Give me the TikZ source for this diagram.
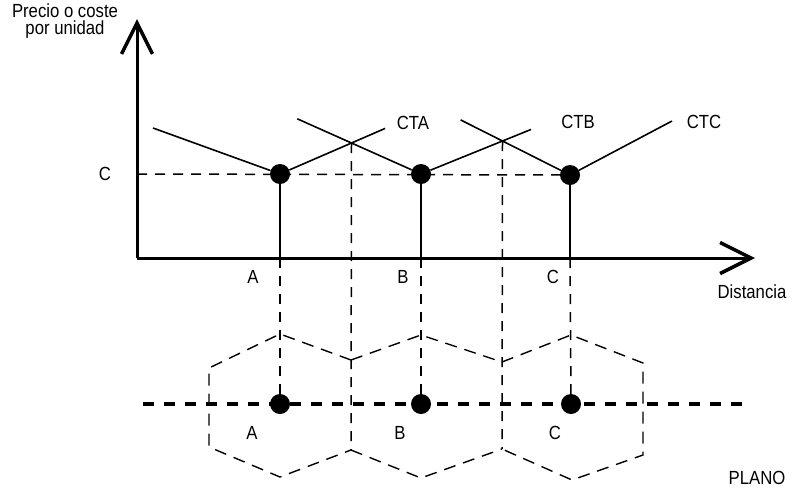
\documentclass[tikz,border=0pt]{standalone}
\usepackage{fontspec}
\setmainfont{Liberation Sans}[FakeStretch=0.88]
\usetikzlibrary{arrows.meta,calc}

\begin{document}
\begin{tikzpicture}[x=1pt, y=-1pt,
	dot/.style={circle, minimum size=20pt, draw=none, fill=black, inner sep=0},
	lbl/.style={font=\fontsize{19}{17.5}\selectfont, inner sep=0},
	axis/.style={line width=3pt, -{Straight Barb[length=31pt,width=31pt,line width=3.5pt]}},
	cost/.style={line width=1.6pt},
	guide/.style={line width=1.5pt, dash pattern=on 10pt off 8pt},
	hexa/.style={line width=1.4pt, dash pattern=on 12pt off 8pt},
	plano/.style={line width=4pt, dash pattern=on 11pt off 10pt}]

\useasboundingbox (0,0) rectangle (792,499);

% axes
\coordinate (O) at (137,258);
\coordinate (ytip) at (137,19);
\coordinate (xtip) at (755,258);
\draw[axis] (O) -- (ytip);
\draw[axis] (O) -- (xtip);
\node[lbl, align=center] (ylab) at (65,21) {Precio o coste\\por unidad};
\node[lbl] (xlab) at (752,292) {Distancia};

% cost curves
\node[dot] (A) at (280,174) {};
\node[dot] (B) at (421,174) {};
\node[dot] (C) at (570,175) {};
\coordinate (AB) at (351.5,143);
\coordinate (BC) at (502.5,141);
\coordinate (a1) at (153,128);
\coordinate (a2) at ($(A)!1.47!(AB)$);
\coordinate (b1) at ($(B)!1.78!(AB)$);
\coordinate (b2) at ($(B)!1.35!(BC)$);
\coordinate (c1) at ($(C)!1.62!(BC)$);
\coordinate (c2) at (672,121);
\begin{scope}[cost]
\draw (a1) -- (A) -- (a2);
\draw (b1) -- (B) -- (b2);
\draw (c1) -- (C) -- (c2);
\draw (A) -- (A |- O);
\draw (B) -- (B |- O);
\draw (C) -- (C |- O);
\end{scope}
\node[lbl] (cta) at (413,123) {CTA};
\node[lbl] (ctb) at (578,122) {CTB};
\node[lbl] (ctc) at (704,122) {CTC};

\node[lbl] (cval) at (105,174) {C};
\draw[guide] (O |- A) -- (C);
\node[lbl] (xa) at (253,277) {A};
\node[lbl] (xb) at (403,277) {B};
\node[lbl] (xc) at (553,277) {C};

% market areas on the plane
\node[dot] (pA) at (280,404) {};
\node[dot] (pB) at (421,404) {};
\node[dot] (pC) at (571,404) {};
\coordinate (pl) at (143,404);
\coordinate (pr) at (750,404);
\draw[plano] (pl) -- (pr);

\coordinate (ABu) at (351,360);
\coordinate (ABd) at (351,450);
\coordinate (BCu) at (502,362);
\coordinate (BCd) at (502,449);
\begin{scope}[guide]
\draw (A |- O) -- (pA);
\draw (B |- O) -- (pB);
\draw (C |- O) -- (pC);
\draw (AB) -- (ABd);
\draw (BC) -- (BCd);
\end{scope}

\begin{scope}[hexa]
\draw (ABu) -- (280,334) -- (209,368) -- (209,447) -- (280,477) -- (ABd);
\draw (ABu) -- (421,335) -- (BCu);
\draw (ABd) -- (421,478) -- (BCd);
\draw (BCu) -- (571,335) -- (643,363) -- (643,455) -- (572,480) -- (BCd);
\end{scope}

\node[lbl] (pa) at (252,433) {A};
\node[lbl] (pb) at (400,433) {B};
\node[lbl] (pc) at (555,433) {C};
\node[lbl] (pln) at (757,478) {PLANO};
\end{tikzpicture}
\end{document}
